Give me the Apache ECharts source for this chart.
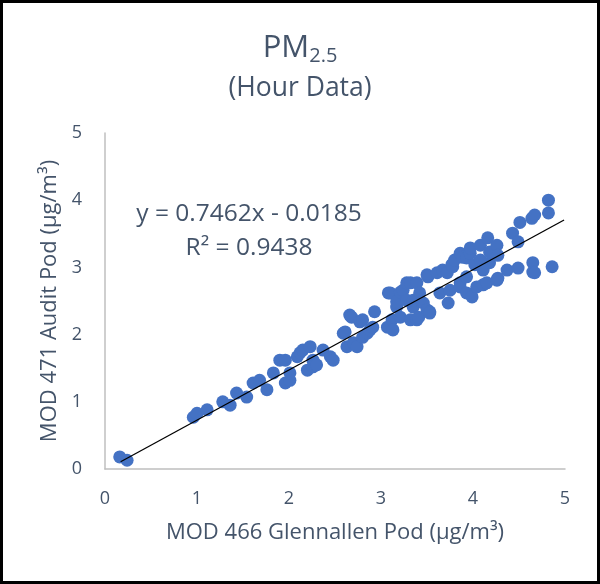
<!DOCTYPE html>
<html>
<head>
<meta charset="utf-8">
<script src="https://cdn.jsdelivr.net/npm/echarts@6/dist/echarts.min.js"></script>
<style>
  html, body { margin: 0; padding: 0; background: #fff; }
  #chart { width: 600px; height: 584px; }
</style>
</head>
<body>
<div id="chart"></div>
<script>
// data
var glennallen = [
  0.16, 0.24, 0.96, 1.00, 1.11, 1.28, 1.36, 1.43, 1.54, 1.61,
  1.68, 1.76, 1.83, 1.90, 1.96, 1.96, 2.01, 2.01, 2.09, 2.12,
  2.15, 2.20, 2.23, 2.26, 2.26, 2.30, 2.37, 2.45, 2.48, 2.59,
  2.61, 2.63, 2.66, 2.68, 2.70, 2.74, 2.77, 2.80, 2.80, 2.85,
  2.88, 2.91, 2.93, 3.07, 3.08, 3.10, 3.12, 3.13, 3.17, 3.17,
  3.21, 3.21, 3.24, 3.28, 3.28, 3.32, 3.32, 3.35, 3.35, 3.39,
  3.39, 3.41, 3.42, 3.46, 3.50, 3.50, 3.51, 3.53, 3.53, 3.61,
  3.64, 3.67, 3.72, 3.73, 3.75, 3.77, 3.78, 3.80, 3.86, 3.86,
  3.86, 3.89, 3.93, 3.93, 3.93, 3.97, 3.97, 3.99, 4.02, 4.04,
  4.08, 4.08, 4.11, 4.11, 4.15, 4.16, 4.18, 4.18, 4.26, 4.26,
  4.27, 4.27, 4.37, 4.43, 4.49, 4.49, 4.51, 4.64, 4.65, 4.65,
  4.67, 4.67, 4.82, 4.82, 4.86
];
var audit = [
  0.18, 0.13, 0.77, 0.83, 0.88, 1.00, 0.95, 1.13, 1.07, 1.28,
  1.32, 1.18, 1.43, 1.62, 1.62, 1.28, 1.32, 1.43, 1.67, 1.73,
  1.77, 1.47, 1.82, 1.62, 1.52, 1.55, 1.77, 1.67, 1.62, 2.02,
  2.04, 1.82, 2.29, 2.26, 1.88, 1.82, 2.19, 1.96, 2.22, 2.02,
  2.07, 2.11, 2.34, 2.11, 2.62, 2.62, 2.22, 2.07, 2.41, 2.49,
  2.26, 2.63, 2.66, 2.77, 2.51, 2.22, 2.77, 2.41, 2.51, 2.77,
  2.22, 2.26, 2.62, 2.47, 2.37, 2.89, 2.86, 2.34, 2.32, 2.92,
  2.62, 2.96, 2.92, 2.47, 2.66, 3.04, 3.01, 3.11, 2.77, 3.21,
  2.71, 3.15, 2.62, 3.14, 2.86, 3.21, 3.29, 2.56, 3.04, 2.71,
  3.33, 3.11, 2.96, 2.74, 2.77, 3.44, 3.07, 3.23, 2.81, 3.33,
  3.18, 2.84, 2.96, 3.51, 3.38, 2.99, 3.67, 3.73, 3.07, 2.93,
  3.78, 2.92, 4.00, 3.81, 3.01
];

// linear trendline as printed on the chart
var slope = 0.7462;
var intercept = -0.0185;
var trendX = [0.17, 4.99];

var axisTicks = [0, 1, 2, 3, 4, 5];

var textColor = '#44546A';
var fontFamily = 'Open Sans';

var points = glennallen.map(function (x, i) { return [x, audit[i]]; });
var trend = trendX.map(function (x) { return [x, slope * x + intercept]; });

var chart = echarts.init(document.getElementById('chart'));

var option = {
  backgroundColor: '#fff',
  animation: false,
  textStyle: { fontFamily: fontFamily },
  title: [
    {
      text: '{a|PM}{b|2.5}',
      left: 'center',
      top: 25,
      textStyle: {
        fontWeight: 'normal',
        rich: {
          a: { fontSize: 31, lineHeight: 36, fontWeight: 'normal', color: textColor, fontFamily: fontFamily },
          b: { fontSize: 20, lineHeight: 12, fontWeight: 'normal', verticalAlign: 'bottom', color: textColor, fontFamily: fontFamily }
        }
      }
    },
    {
      text: '(Hour Data)',
      left: 'center',
      top: 67,
      textStyle: { fontSize: 26.5, lineHeight: 32, fontWeight: 'normal', color: textColor, fontFamily: fontFamily }
    }
  ],
  grid: { left: 105, right: 35, top: 133, bottom: 115 },
  xAxis: {
    type: 'value',
    min: axisTicks[0],
    max: axisTicks[axisTicks.length - 1],
    interval: 1,
    name: 'MOD 466 Glennallen Pod (µg/m³)',
    nameLocation: 'middle',
    nameGap: 53,
    nameTextStyle: { fontSize: 22, color: textColor },
    axisLine: { lineStyle: { color: '#BFBFBF', width: 1.5 } },
    axisTick: { show: false },
    splitLine: { show: false },
    axisLabel: { fontSize: 18, color: textColor, margin: 21 }
  },
  yAxis: {
    type: 'value',
    min: axisTicks[0],
    max: axisTicks[axisTicks.length - 1],
    interval: 1,
    name: 'MOD 471 Audit Pod (µg/m³)',
    nameLocation: 'middle',
    nameGap: 43,
    nameTextStyle: { fontSize: 22, color: textColor },
    axisLine: { show: true, lineStyle: { color: '#BFBFBF', width: 1.5 } },
    axisTick: { show: false },
    splitLine: { show: false },
    axisLabel: { fontSize: 18, color: textColor, margin: 23 }
  },
  series: [
    {
      name: 'PM2.5',
      type: 'scatter',
      data: points,
      symbolSize: 13,
      itemStyle: { color: '#4472C4', opacity: 1 }
    },
    {
      name: 'Trend',
      type: 'line',
      data: trend,
      symbol: 'none',
      z: 5,
      lineStyle: { color: '#000', width: 1.3 }
    }
  ],
  graphic: [
    {
      type: 'text',
      x: 249,
      y: 214,
      style: {
        text: 'y = 0.7462x - 0.0185',
        fontSize: 24.5,
        fontFamily: fontFamily,
        fill: textColor,
        align: 'center',
        verticalAlign: 'middle'
      }
    },
    {
      type: 'text',
      x: 249,
      y: 248,
      style: {
        text: 'R² = 0.9438',
        fontSize: 24.5,
        fontFamily: fontFamily,
        fill: textColor,
        align: 'center',
        verticalAlign: 'middle'
      }
    },
    {
      type: 'rect',
      shape: { x: 1.5, y: 1.5, width: 597, height: 581 },
      style: { fill: 'none', stroke: '#000', lineWidth: 3 },
      z: 100
    }
  ]
};

option && chart.setOption(option);
</script>
</body>
</html>
